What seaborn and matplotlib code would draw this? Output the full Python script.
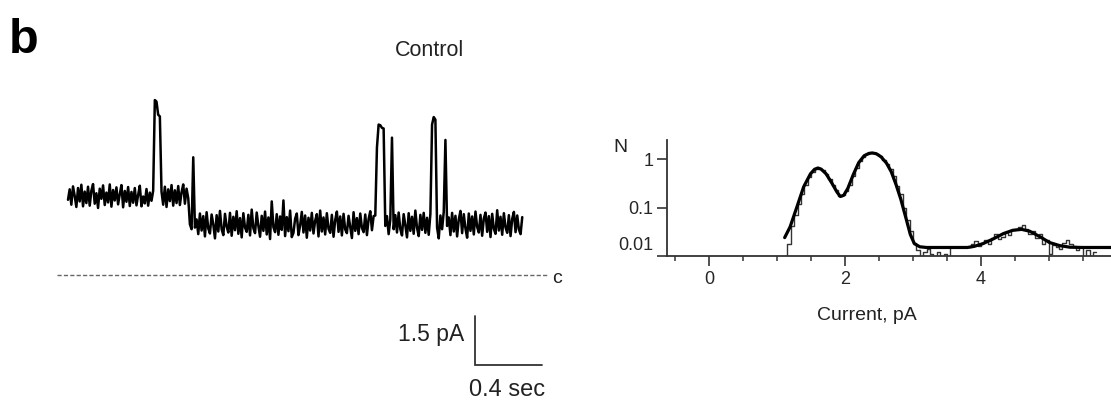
import numpy as np
import pandas as pd
import matplotlib
matplotlib.use("Agg")
import matplotlib.pyplot as plt
import matplotlib.transforms as mtransforms
from matplotlib.ticker import FixedLocator, MultipleLocator, NullLocator
import seaborn as sns

# ---------------- data ----------------
# single-channel current trace (pA), sampled every dt seconds
dt = 0.01
trace_pA = [
    2.30, 2.62, 2.15, 2.71, 2.42, 2.08, 2.66, 2.25, 2.76, 2.10,
    2.55, 2.20, 2.70, 2.12, 2.58, 2.78, 2.18, 2.50, 2.05, 2.64,
    2.33, 2.74, 2.14, 2.52, 2.22, 2.77, 2.09, 2.60, 2.28, 2.68,
    2.16, 2.47, 2.75, 2.07, 2.57, 2.24, 2.69, 2.11, 2.54, 2.21,
    2.66, 2.13, 2.45, 2.73, 2.10, 2.40, 2.19, 2.63, 2.12, 2.52,
    2.27, 2.58,
    5.35, 5.30, 4.90, 4.85,
    2.55, 2.15, 2.70, 2.08, 2.62, 2.26, 2.75, 2.12, 2.59, 2.20,
    2.72, 2.14, 2.53, 2.77, 2.18, 2.64, 2.35,
    1.55, 1.40, 3.60, 1.45,
    1.70, 1.25, 1.88, 1.36, 1.80, 1.18, 1.92, 1.42, 1.27, 1.85,
    1.55, 1.12, 1.83, 1.33, 1.96, 1.40, 1.22, 1.87, 1.48, 1.30,
    1.90, 1.20, 1.78, 1.37, 1.95, 1.26, 1.74, 1.15, 1.89, 1.45,
    1.32, 1.84, 1.21, 2.00, 1.43, 1.28, 1.91, 1.50, 1.17, 1.81,
    1.35, 1.94, 1.24, 1.76, 1.10, 2.25, 1.46, 1.31, 1.86, 1.23,
    1.79, 1.38, 2.28, 1.19, 1.77, 1.34, 1.97, 1.16, 1.29, 1.72,
    1.88, 1.22, 1.52, 1.93, 1.30, 1.82, 1.14, 1.75, 1.36, 1.90,
    1.27, 1.66, 1.86, 1.18, 1.97, 1.33, 1.76, 1.24, 1.89, 1.41,
    1.29, 1.84, 1.17, 1.68, 1.94, 1.32, 1.79, 1.21, 1.87, 1.39,
    1.28, 1.81, 1.47, 1.13, 1.92, 1.35, 1.74, 1.25, 1.88, 1.44,
    1.31, 1.85, 1.22, 1.71, 1.95, 1.37, 1.80, 1.82,
    3.90, 4.60, 4.58, 4.50, 4.48,
    1.50, 1.80, 1.25, 1.70,
    4.20, 1.40,
    1.83, 1.30, 1.91, 1.40, 1.21, 1.86, 1.52, 1.15, 1.89, 1.35,
    1.78, 1.26, 1.97, 1.44, 1.19, 1.84, 1.38, 1.90, 1.29, 1.75,
    1.23, 1.87,
    4.60, 4.83, 4.75, 1.45,
    1.12, 1.82, 1.40, 1.93,
    4.13, 1.50,
    1.76, 1.22, 1.90, 1.33, 1.81, 1.18, 1.70, 1.96, 1.28, 1.86,
    1.42, 1.14, 1.88, 1.35, 1.79, 1.24, 1.94, 1.47, 1.30, 1.84,
    1.20, 1.73, 1.91, 1.32, 1.80, 1.16, 1.87, 1.41, 1.26, 1.98,
    1.36, 1.78, 1.23, 1.89, 1.45, 1.29, 1.83, 1.19, 1.72, 1.93,
    1.31, 1.82, 1.39, 1.25, 1.77,
]
closed_level_pA = 0.0
scale_pA = 1.5
scale_sec = 0.4

# amplitude histogram (bin left edges, pA) and counts (N, log scale)
hist_edges = [
    1.10, 1.15, 1.20, 1.25, 1.30, 1.35, 1.40, 1.45, 1.50, 1.55,
    1.60, 1.65, 1.70, 1.75, 1.80, 1.85, 1.90, 1.95, 2.00, 2.05,
    2.10, 2.15, 2.20, 2.25, 2.30, 2.35, 2.40, 2.45, 2.50, 2.55,
    2.60, 2.65, 2.70, 2.75, 2.80, 2.85, 2.90, 2.95, 3.00, 3.05,
    3.10, 3.15, 3.20, 3.25, 3.30, 3.35, 3.40, 3.45, 3.50, 3.55,
    3.60, 3.65, 3.70, 3.75, 3.80, 3.85, 3.90, 3.95, 4.00, 4.05,
    4.10, 4.15, 4.20, 4.25, 4.30, 4.35, 4.40, 4.45, 4.50, 4.55,
    4.60, 4.65, 4.70, 4.75, 4.80, 4.85, 4.90, 4.95, 5.00, 5.05,
    5.10, 5.15, 5.20, 5.25, 5.30, 5.35, 5.40, 5.45, 5.50, 5.55,
    5.60, 5.65, 5.70,
]
hist_N = [
    0.001, 0.018, 0.042, 0.070, 0.12, 0.19, 0.30, 0.42, 0.55, 0.64,
    0.66, 0.60, 0.50, 0.40, 0.30, 0.23, 0.17, 0.18, 0.22, 0.30,
    0.46, 0.65, 0.92, 1.12, 1.28, 1.36, 1.35, 1.28, 1.15, 0.98,
    0.80, 0.62, 0.44, 0.28, 0.19, 0.10, 0.055, 0.033, 0.019, 0.013,
    0.006, 0.012, 0.014, 0.011, 0.006, 0.012, 0.006, 0.011, 0.006, 0.015,
    0.015, 0.015, 0.015, 0.015, 0.015, 0.018, 0.020, 0.016, 0.019, 0.021,
    0.018, 0.024, 0.028, 0.022, 0.025, 0.031, 0.027, 0.034, 0.036, 0.040,
    0.043, 0.036, 0.029, 0.033, 0.024, 0.028, 0.018, 0.021, 0.011, 0.017,
    0.015, 0.014, 0.019, 0.021, 0.018, 0.016, 0.013, 0.015, 0.006, 0.013,
    0.006, 0.012, 0.012,
]

# fitted curve
fit_x = [1.11, 1.19, 1.29, 1.39, 1.49, 1.55, 1.60, 1.65, 1.72, 1.80,
         1.88, 1.93, 1.98, 2.04, 2.12, 2.20, 2.28, 2.35, 2.40, 2.46,
         2.53, 2.61, 2.68, 2.75, 2.82, 2.90, 2.96, 3.02, 3.10, 3.20,
         3.80, 3.90, 4.03, 4.18, 4.33, 4.47, 4.60, 4.72, 4.87, 5.01,
         5.16, 5.31, 5.50, 5.92]
fit_N = [0.024, 0.040, 0.103, 0.27, 0.50, 0.62, 0.66, 0.62, 0.50, 0.33,
         0.21, 0.17, 0.18, 0.25, 0.48, 0.85, 1.18, 1.32, 1.35, 1.30,
         1.12, 0.83, 0.55, 0.30, 0.15, 0.058, 0.028, 0.018, 0.0155, 0.015,
         0.015, 0.0158, 0.018, 0.0225, 0.029, 0.034, 0.0355, 0.0325, 0.025, 0.019,
         0.0164, 0.0152, 0.015, 0.015]

y_ticks = [1, 0.1, 0.01]
y_ticklabels = ["1", "0.1", "0.01"]
x_ticks = [0, 2, 4]

# ---------------- style ----------------
sns.set_style("white")
plt.rcParams["font.family"] = ["Liberation Sans", "DejaVu Sans"]

W, H = 1111, 404
fig = plt.figure(figsize=(W / 100, H / 100), dpi=100)


def fx(px):
    return px / W


def fy(py):
    return 1 - py / H


# ---------------- left: trace ----------------
axl = fig.add_axes([fx(40), 0.0, fx(580) - fx(40), fy(80)])
t = np.arange(len(trace_pA)) * dt
df_trace = pd.DataFrame({"t": t, "I": trace_pA})
sns.lineplot(data=df_trace, x="t", y="I", ax=axl, color="black", lw=1.8,
             estimator=None, sort=False)
px_per_s = 167.0
px_per_pA = 32.7
axl.set_xlim((40 - 68) / px_per_s, (580 - 68) / px_per_s)
axl.set_ylim((275 - 404) / px_per_pA, (275 - 80) / px_per_pA)
axl.axis("off")

# closed level
t_left = (57 - 68) / px_per_s
t_right = (548 - 68) / px_per_s
axl.plot([t_left, t_right], [closed_level_pA, closed_level_pA], color="#666666",
         lw=1.0, ls=(0, (3, 1.6)), clip_on=False)
axl.text((552 - 68) / px_per_s, closed_level_pA - 0.1, "c", fontsize=14,
         ha="left", va="center", color="#222222")

# scale bar
sb_t = (475 - 68) / px_per_s
sb_I = (275 - 365) / px_per_pA
axl.plot([sb_t, sb_t, sb_t + scale_sec], [sb_I + scale_pA, sb_I, sb_I],
         color="#333333", lw=1.3, solid_joinstyle="miter", clip_on=False)
axl.text(sb_t - 11 / px_per_s, sb_I + 0.62 * scale_pA, f"{scale_pA} pA",
         fontsize=16.5, ha="right", va="center", color="#222222")
axl.text(sb_t + scale_sec / 2 - 1 / px_per_s, sb_I - 25 / px_per_pA,
         f"{scale_sec} sec", fontsize=17, ha="center", va="center", color="#222222")

# ---------------- right: histogram ----------------
x0_px, ppa = 709.3, 67.9
x_lo = (666.7 - x0_px) / ppa
x_hi = (1111 - x0_px) / ppa
axr = fig.add_axes([fx(666.7), fy(256), fx(1111) - fx(666.7), fy(140) - fy(256)])
df_hist = pd.DataFrame({"x": hist_edges, "N": hist_N})
sns.lineplot(data=df_hist, x="x", y="N", ax=axr, color="#333333", lw=1.0,
             drawstyle="steps-post", estimator=None, sort=False)
df_fit = pd.DataFrame({"x": fit_x, "N": fit_N})
sns.lineplot(data=df_fit, x="x", y="N", ax=axr, color="black", lw=2.3,
             estimator=None, sort=False)
axr.set_yscale("log")
axr.set_ylim(0.01, 2.5)
axr.set_xlim(x_lo, x_hi)
axr.set_xlabel("")
axr.set_ylabel("")
for s in ["top", "right"]:
    axr.spines[s].set_visible(False)
for s in ["left", "bottom"]:
    axr.spines[s].set_color("#333333")
    axr.spines[s].set_linewidth(1.3)

axr.yaxis.set_major_locator(FixedLocator(y_ticks))
axr.yaxis.set_minor_locator(NullLocator())
axr.set_yticklabels(y_ticklabels)
axr.xaxis.set_major_locator(FixedLocator(x_ticks))
axr.xaxis.set_minor_locator(MultipleLocator(0.5))
axr.tick_params(axis="y", which="major", direction="out", length=7.5, width=1.2,
                color="#333333", pad=2, labelsize=13, left=True)
axr.tick_params(axis="x", which="major", direction="out", length=7.5, width=1.2,
                color="#333333", pad=3.5, labelsize=13, bottom=True)
axr.tick_params(axis="x", which="minor", direction="out", length=3.5, width=1.1,
                color="#333333", bottom=True)
for lab in axr.get_yticklabels():
    if lab.get_text() == "0.01":
        lab.set_transform(lab.get_transform() +
                          mtransforms.ScaledTranslation(0, 12 / 100, fig.dpi_scale_trans))

fig.text(fx(620), fy(147), "N", fontsize=14, ha="center", va="center", color="#222222")
fig.text(fx(867), fy(316), "Current, pA", fontsize=14, ha="center", va="center",
         color="#222222")

# ---------------- titles ----------------
fig.text(fx(429), fy(51), "Control", fontsize=15.5, ha="center", va="center",
         color="#222222")
fig.text(fx(9), fy(53), "b", fontsize=35, fontweight="bold", ha="left",
         va="baseline", color="black")

fig.savefig("out.png", dpi=100)
